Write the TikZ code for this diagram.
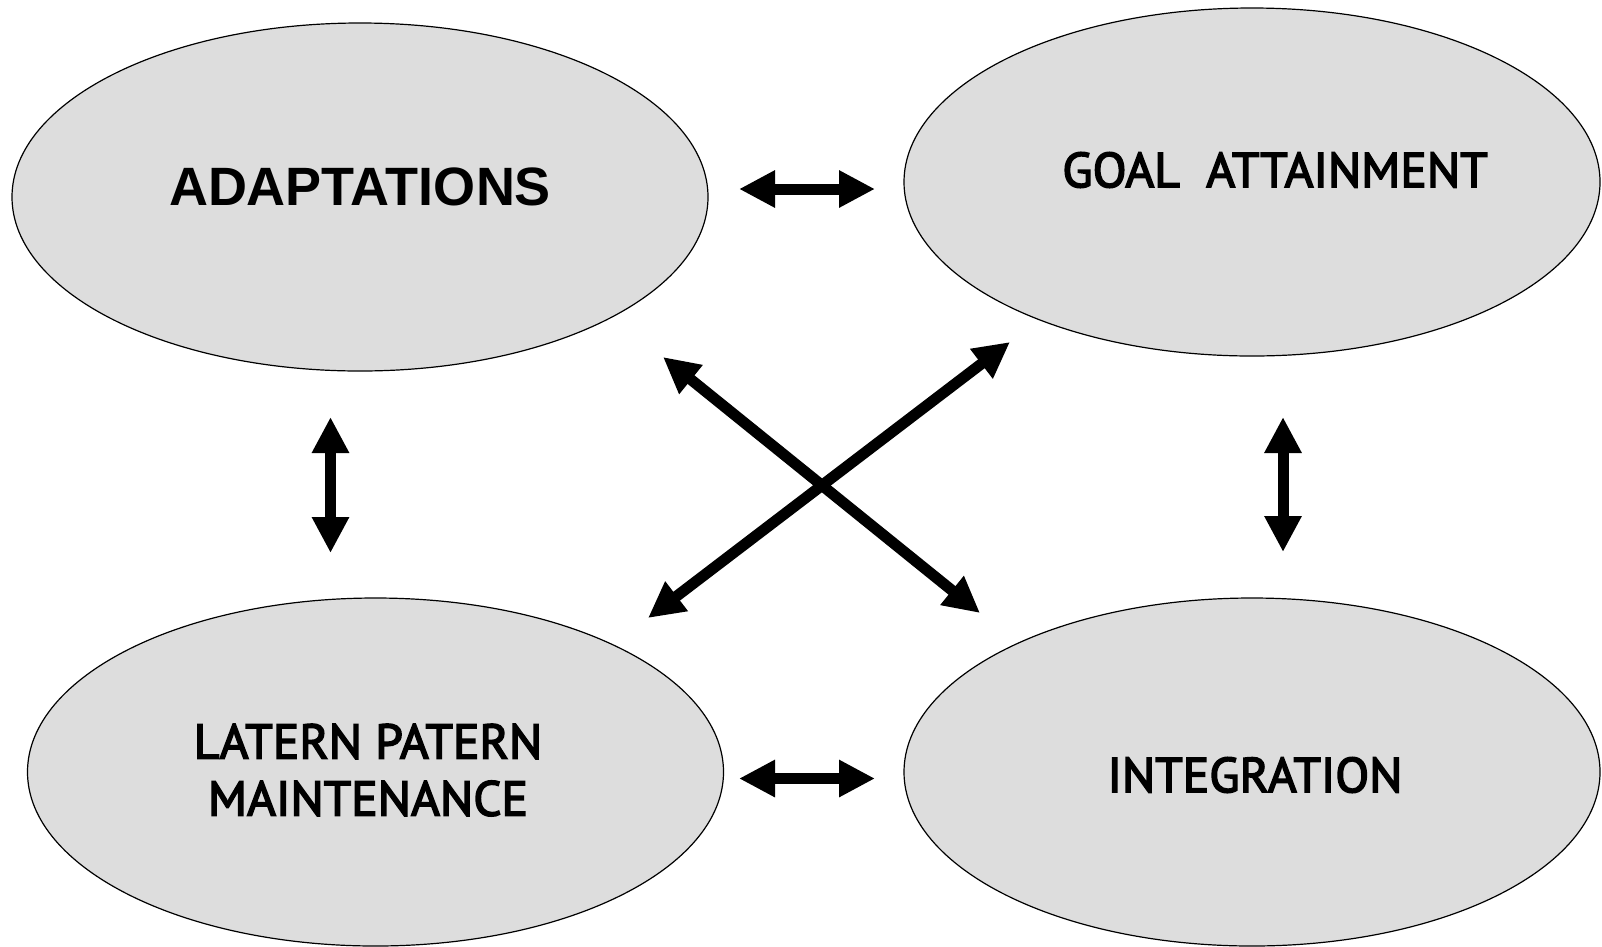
\documentclass[tikz,border=0pt]{standalone}
\usepackage{fontspec}
\setmainfont{Liberation Sans}
\newfontface\condfont[FakeBold=3.2,FakeStretch=1.01]{PT Sans}
\usetikzlibrary{shapes.geometric,arrows.meta}
\definecolor{ellgray}{RGB}{221,221,221}
\tikzset{
  blob/.style={ellipse, draw=black, line width=1.2pt, fill=ellgray, minimum width=696pt, minimum height=348pt, inner sep=0pt},
  bigarrow/.style={line width=11pt, {Triangle[length=36pt,width=35pt]}-{Triangle[length=36pt,width=35pt]}},
  labA/.style={font=\fontsize{54}{62}\selectfont\bfseries},
  labB/.style={font=\fontsize{49}{57}\selectfont\condfont, align=center}
}
\begin{document}
\begin{tikzpicture}[x=1pt,y=-1pt]
\useasboundingbox (0,0) rectangle (1602,946);
\node[blob] (ad) at (360,197) {};
\node[blob] (go) at (1252,182) {};
\node[blob] (la) at (375.5,772) {};
\node[blob] (in) at (1252,772) {};
\node[labA] (adt) at (360,187) {ADAPTATIONS};
\node[labB] (got) at (1275,170) {GOAL\ \ ATTAINMENT};
\node[labB] (lat) at (368,770) {LATERN PATERN\\MAINTENANCE};
\node[labB] (int) at (1255,775) {INTEGRATION};
\coordinate (h1a) at (739,189);
\coordinate (h1b) at (875,189);
\coordinate (h2a) at (739,778.5);
\coordinate (h2b) at (875,778.5);
\coordinate (v1a) at (330.5,417);
\coordinate (v1b) at (330.5,553);
\coordinate (v2a) at (1283,417);
\coordinate (v2b) at (1283,552);
\coordinate (d1a) at (663,357);
\coordinate (d1b) at (980,613);
\coordinate (d2a) at (648,618);
\coordinate (d2b) at (1010,342);
\draw[bigarrow] (h1a) -- (h1b);
\draw[bigarrow] (h2a) -- (h2b);
\draw[bigarrow] (v1a) -- (v1b);
\draw[bigarrow] (v2a) -- (v2b);
\draw[bigarrow] (d1a) -- (d1b);
\draw[bigarrow] (d2a) -- (d2b);
\end{tikzpicture}
\end{document}
